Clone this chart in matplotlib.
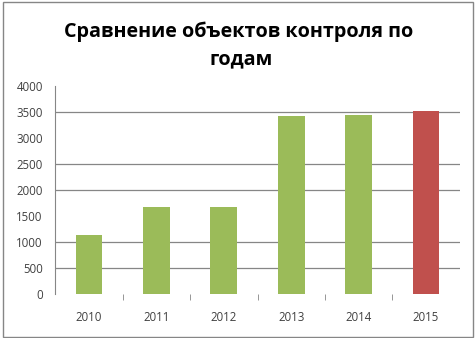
import matplotlib.pyplot as plt
from matplotlib.patches import Rectangle

years = ["2010", "2011", "2012", "2013", "2014", "2015"]
values = [1150, 1680, 1680, 3430, 3455, 3525]
bar_colors = ["#9BBB59", "#9BBB59", "#9BBB59", "#9BBB59", "#9BBB59", "#C0504D"]
y_ticks = [0, 500, 1000, 1500, 2000, 2500, 3000, 3500, 4000]
# only these gridlines show in the original rendering
grid_values = [500, 1000, 2000, 2500, 3500]
title = "Сравнение объектов контроля по \nгодам"

plt.rcParams['font.family'] = ['Open Sans', 'DejaVu Sans']

fig = plt.figure(figsize=(4.75, 3.38), dpi=100)
W, H = 475, 338
ax = fig.add_axes([55.3 / W, 1 - 294.3 / H, 404.4 / W, 208 / H])

x = list(range(len(years)))
for v in grid_values:
    ax.axhline(v, color="#868686", lw=0.9, zorder=1)
ax.bar(x, values, width=0.4, color=bar_colors, zorder=2)

ax.set_xlim(-0.5, len(years) - 0.5)
ax.set_ylim(0, 4000)
ax.set_yticks(y_ticks)
ax.set_yticklabels([str(t) for t in y_ticks])
ax.set_xticks(x)
ax.set_xticklabels(years)
ax.set_xticks([i + 0.5 for i in x[:-1]], minor=True)

for s in ["top", "right", "bottom"]:
    ax.spines[s].set_visible(False)
ax.spines["left"].set_color("#868686")
ax.tick_params(axis="y", length=0, pad=9, labelsize=8.3, labelcolor="#404040")
ax.tick_params(axis="x", which="major", length=0, pad=12, labelsize=8.3, labelcolor="#404040")
ax.tick_params(axis="x", which="minor", length=4, color="#868686", direction="out")

fig.text(0.507, 1 - 22 / H, title, ha="center", va="top", fontsize=14.2,
         fontweight="bold", linespacing=1.45)

fig.patches.append(Rectangle((2.5 / W, 1.5 / H), 470 / W, 334.5 / H, transform=fig.transFigure,
                             fill=False, edgecolor="#868686", lw=1.0))

fig.savefig("out.png", dpi=100)
